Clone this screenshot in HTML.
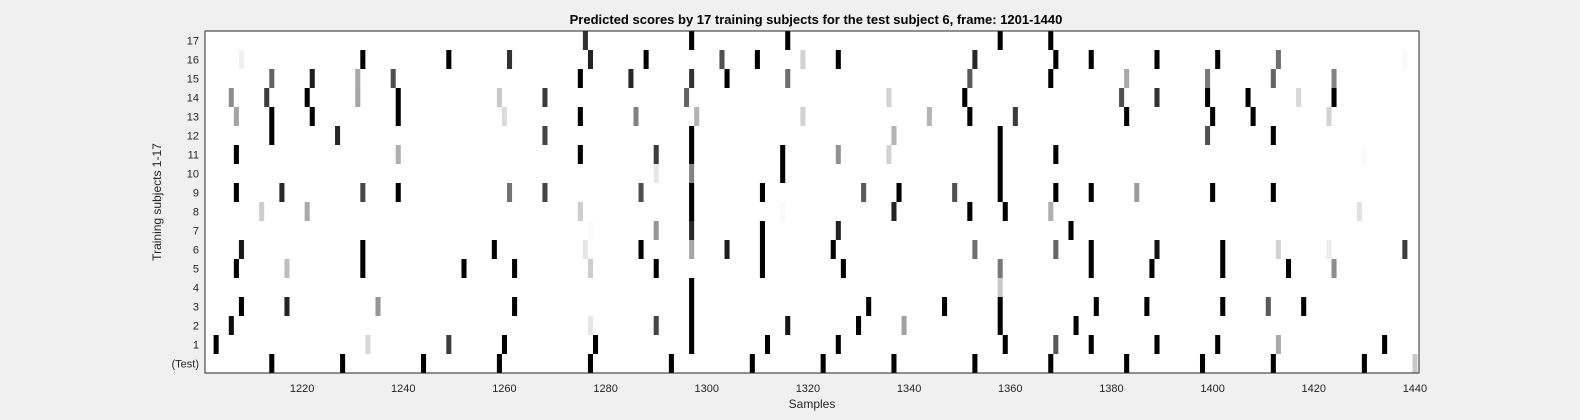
<!DOCTYPE html>
<html><head><meta charset="utf-8"><style>
html,body{margin:0;padding:0;background:#f0f0f0;overflow:hidden;width:1580px;height:420px;}
svg{display:block;font-family:"Liberation Sans",sans-serif;}
</style></head><body>
<svg id="chart" width="1580" height="420" viewBox="0 0 1580 420">
<rect x="0" y="0" width="1580" height="420" fill="#f0f0f0"/>
<text x="816" y="24" text-anchor="middle" font-size="13" font-weight="bold" fill="#000">Predicted scores by 17 training subjects for the test subject 6, frame: 1201-1440</text>
<defs><clipPath id="pc"><rect x="205" y="31" width="1214" height="342"/></clipPath></defs>
<rect x="205" y="31" width="1214" height="342" fill="#fff"/>
<g id="cells" clip-path="url(#pc)"></g>
<g id="axes"></g>
<rect x="205" y="31" width="1214" height="342" fill="none" stroke="#262626" stroke-width="1"/>
<text x="812" y="408" text-anchor="middle" font-size="12" fill="#262626">Samples</text>
<text transform="translate(161,202) rotate(-90)" text-anchor="middle" font-size="12" fill="#262626">Training subjects 1-17</text>
</svg>
<script>
const rowLabels = ["(Test)","1","2","3","4","5","6","7","8","9","10","11","12","13","14","15","16","17"];
const xTicks = [1220,1240,1260,1280,1300,1320,1340,1360,1380,1400,1420,1440];
const samples = [
 [1214,1228,1244,1259,1277,1293,1309,1323,1337,1353,1368,1383,1398,1412,1430,1440],
 [1203,1233,1249,1260,1278,1297,1312,1326,1359,1369,1376,1389,1401,1413,1434],
 [1206,1277,1290,1297,1316,1330,1339,1358,1373],
 [1208,1217,1235,1262,1297,1332,1347,1358,1377,1387,1402,1411,1418],
 [1297,1358],
 [1207,1217,1232,1252,1262,1277,1290,1311,1327,1358,1376,1388,1402,1415,1424],
 [1208,1232,1258,1276,1287,1297,1304,1311,1325,1353,1369,1376,1389,1402,1413,1423,1438],
 [1277,1290,1297,1311,1326,1372],
 [1212,1221,1275,1297,1315,1337,1352,1359,1368,1429],
 [1207,1216,1232,1239,1261,1268,1287,1297,1311,1331,1338,1349,1358,1369,1376,1385,1400,1412],
 [1290,1297,1315,1358],
 [1207,1239,1275,1290,1297,1315,1326,1336,1358,1369,1430],
 [1214,1227,1268,1297,1337,1358,1399,1412],
 [1207,1214,1222,1239,1260,1275,1286,1298,1319,1344,1352,1361,1383,1400,1408,1423],
 [1206,1213,1221,1231,1239,1259,1268,1296,1336,1351,1382,1389,1399,1407,1417,1424],
 [1214,1222,1231,1238,1275,1285,1297,1304,1316,1352,1368,1383,1399,1412,1424],
 [1208,1232,1249,1261,1277,1288,1303,1310,1319,1326,1353,1369,1376,1389,1401,1413,1438],
 [1276,1297,1316,1358,1368]
];
const levels = [
 [0,0,0,0,0,0,0,0,0,0,0,0,0,0,0,200],
 [0,215,60,0,0,0,0,0,0,90,0,0,0,170,0],
 [15,230,70,0,20,0,160,0,0],
 [0,35,150,0,0,0,0,0,0,0,0,90,0],
 [0,200],
 [0,190,0,0,0,205,0,0,0,120,0,0,0,0,140],
 [25,0,0,230,0,165,30,0,0,110,100,0,20,0,210,235,60],
 [250,150,40,0,35,0],
 [205,170,205,0,250,35,0,0,175,225],
 [0,40,70,0,115,70,80,0,0,90,0,80,0,0,0,155,0,0],
 [230,130,0,0],
 [0,175,0,60,0,0,145,210,0,0,250],
 [0,40,70,0,180,0,80,0],
 [165,0,0,0,220,0,130,180,210,180,0,60,0,0,0,210],
 [140,60,0,165,0,200,60,100,210,0,80,50,0,0,215,0],
 [100,30,170,80,0,40,50,0,110,90,0,170,120,100,130],
 [240,0,0,50,35,0,80,0,210,0,40,0,0,0,0,110,250],
 [50,0,0,0,0]
];
const sMin = 1201, sMax = 1440;
const plotL = 205, plotR = 1419, plotT = 31, plotB = 373;
const cw = (plotR - plotL) / (sMax - sMin + 1);
const rh = (plotB - plotT) / rowLabels.length;
function xCell(s){ return plotL + (s - sMin) * cw - 1.5; }
function xTick(s){ return plotL + (s - sMin) * cw + 1; }
function yRow(r){ return plotB - (r + 1) * rh; }
const NS = "http://www.w3.org/2000/svg";
const cells = document.getElementById("cells");
samples.forEach(function(list, r){
  list.forEach(function(s, i){
    const g = levels[r][i];
    const el = document.createElementNS(NS, "rect");
    el.setAttribute("x", xCell(s).toFixed(2));
    el.setAttribute("y", yRow(r).toFixed(2));
    el.setAttribute("width", cw.toFixed(2));
    el.setAttribute("height", rh.toFixed(2));
    el.setAttribute("fill", "rgb(" + g + "," + g + "," + g + ")");
    
    
    cells.appendChild(el);
  });
});
const axes = document.getElementById("axes");
xTicks.forEach(function(t){
  const x = xTick(t);
  const tx = document.createElementNS(NS, "text");
  tx.setAttribute("x", x); tx.setAttribute("y", plotB + 19);
  tx.setAttribute("text-anchor", "middle");
  tx.setAttribute("font-size", "11");
  tx.setAttribute("fill", "#262626");
  tx.textContent = t;
  
  
  axes.appendChild(tx);
});
rowLabels.forEach(function(lab, r){
  const y = yRow(r) + rh / 2;
  const tx = document.createElementNS(NS, "text");
  tx.setAttribute("x", plotL - 6); tx.setAttribute("y", y + 4);
  tx.setAttribute("text-anchor", "end");
  tx.setAttribute("font-size", "11");
  tx.setAttribute("fill", "#262626");
  tx.textContent = lab;
  
  
  axes.appendChild(tx);
});
</script>
</body></html>
